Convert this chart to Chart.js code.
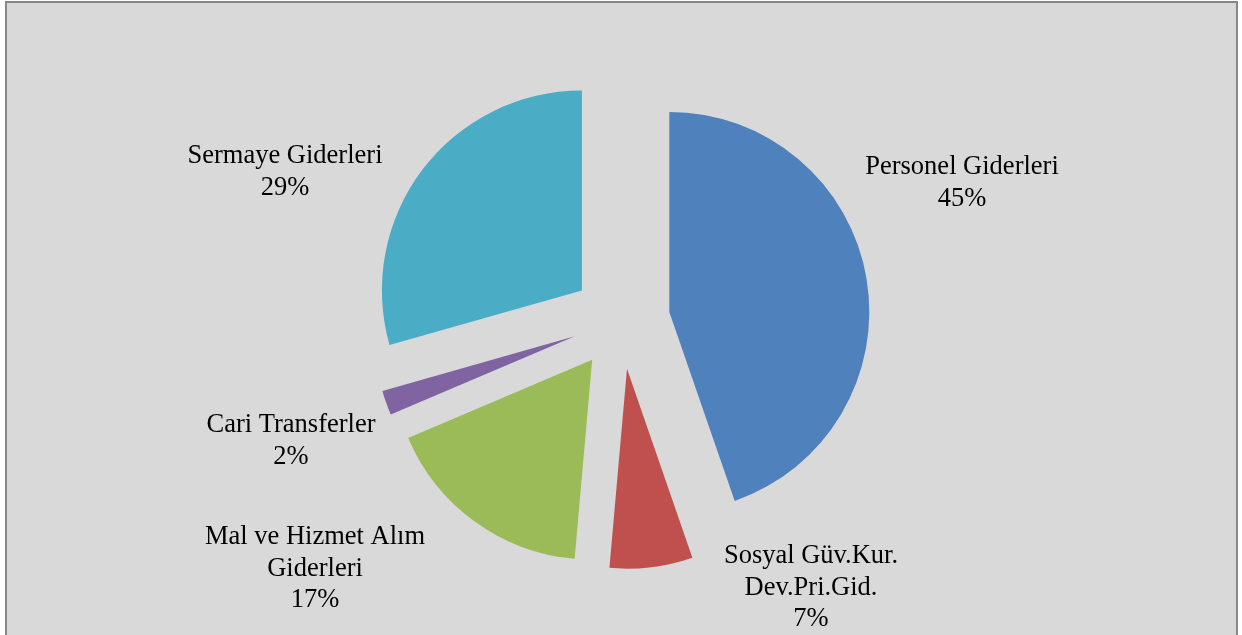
<!DOCTYPE html>
<html>
<head>
<meta charset="utf-8">
<script src="https://cdn.jsdelivr.net/npm/chart.js@4/dist/chart.umd.min.js"></script>
<style>
  html, body { margin: 0; padding: 0; background: #fff; }
  canvas { display: block; }
</style>
</head>
<body>
<canvas id="pieChart" width="1242" height="635"></canvas>
<script>
// Data
const categories = [
  ["Personel Giderleri"],
  ["Sosyal Güv.Kur.", "Dev.Pri.Gid."],
  ["Mal ve Hizmet Alım", "Giderleri"],
  ["Cari Transferler"],
  ["Sermaye Giderleri"]
];
const shares = [44.7, 6.7, 17.2, 2.0, 29.4];
const colors = ["#4f81bd", "#c0504d", "#9bbb59", "#8064a2", "#4bacc6"];

// label anchors relative to pie centre (x = text centre, y = first baseline)
const labelOffsets = [
  [341, -146],
  [190, 243],
  [-306, 224],
  [-330, 112],
  [-336, -157]
];
const explode = 49;

// frame + background
const framePlugin = {
  id: "frame",
  beforeDraw(chart) {
    const c = chart.ctx;
    c.save();
    c.fillStyle = "#ffffff";
    c.fillRect(0, 0, chart.width, chart.height);
    c.fillStyle = "#d9d9d9";
    c.fillRect(6, 2, 1231, 700);
    c.strokeStyle = "#878787";
    c.lineWidth = 2;
    c.strokeRect(6, 2, 1231, 700);
    c.restore();
  }
};

// draw every slice pulled out along its middle angle
const explodePlugin = {
  id: "explode",
  beforeDatasetDraw(chart, args) {
    const c = chart.ctx;
    args.meta.data.forEach(arc => {
      const mid = (arc.startAngle + arc.endAngle) / 2;
      c.save();
      c.translate(Math.cos(mid) * explode, Math.sin(mid) * explode);
      arc.draw(c);
      c.restore();
    });
    return false;
  }
};

// data labels
const labelPlugin = {
  id: "labels",
  afterDatasetsDraw(chart) {
    const c = chart.ctx;
    const meta = chart.getDatasetMeta(0);
    const total = shares.reduce((a, b) => a + b, 0);
    c.save();
    c.fillStyle = "#000";
    c.font = "26.5px 'Liberation Serif', 'Times New Roman', serif";
    c.textAlign = "center";
    c.textBaseline = "alphabetic";
    meta.data.forEach((arc, i) => {
      const lines = categories[i].concat([Math.round(shares[i] / total * 100) + "%"]);
      const x = arc.x + labelOffsets[i][0];
      let y = arc.y + labelOffsets[i][1];
      lines.forEach(line => {
        c.fillText(line, x, y);
        y += 31.5;
      });
    });
    c.restore();
  }
};

const ctx = document.getElementById("pieChart");

new Chart(ctx, {
  type: "pie",
  data: {
    labels: categories,
    datasets: [{
      data: shares,
      backgroundColor: colors,
      borderWidth: 0,
      radius: 200
    }]
  },
  options: {
    responsive: false,
    animation: false,
    events: [],
    layout: { padding: { top: 5, bottom: 0, left: 0, right: 0 } },
    plugins: {
      legend: { display: false },
      tooltip: { enabled: false }
    }
  },
  plugins: [framePlugin, explodePlugin, labelPlugin]
});
</script>
</body>
</html>
